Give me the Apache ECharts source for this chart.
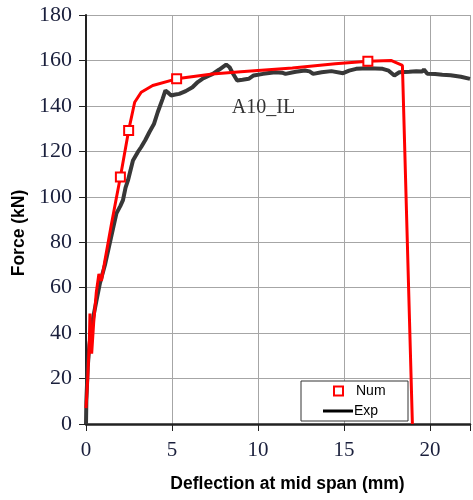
<!DOCTYPE html>
<html>
<head>
<meta charset="utf-8">
<script src="https://cdn.jsdelivr.net/npm/echarts@6/dist/echarts.min.js"></script>
<style>
  html, body { margin: 0; padding: 0; background: #fff; }
  #chart { width: 473px; height: 500px; }
</style>
</head>
<body>
<div id="chart"></div>
<script>
// numerical curve (Num)
var numX = [0, 0.1, 0.2, 0.23, 0.28, 0.33, 0.45, 0.6, 0.75, 0.9, 1.1, 1.48, 1.73, 2.0, 2.48, 2.83, 3.21, 3.88, 5.27, 7.35, 9.0, 12.0, 14.5, 16.39, 17.73, 18.4, 18.46, 18.98];
var numY = [7, 20, 38, 48.6, 40, 31, 45, 58, 66, 63, 72, 88, 98, 108.7, 129.2, 141.6, 146, 149, 151.9, 154, 155, 156.7, 158.5, 159.6, 160, 157.8, 157, 0];
// indices of the points drawn with a square marker
var numMarked = [13, 14, 18, 23];

// experimental curve (Exp)
var expX = [0, 0.02, 0.1, 0.2, 0.42, 0.6, 0.81, 1.1, 1.38, 1.6, 1.77, 2.0, 2.15, 2.3, 2.44, 2.73, 3.0, 3.21, 3.45, 3.69, 3.95, 4.17, 4.45, 4.62, 4.75, 4.94, 5.2, 5.42, 5.8, 6.19, 6.5, 6.77, 7.05, 7.35, 7.75, 8.15, 8.35, 8.5, 8.79, 9.1, 9.46, 9.75, 10.3, 11.0, 11.4, 11.6, 12.2, 12.73, 13.0, 13.21, 13.7, 14.27, 14.95, 15.3, 15.71, 16.4, 17.25, 17.6, 17.93, 18.22, 18.8, 19.2, 19.56, 19.65, 19.85, 20.3, 20.72, 21.2, 21.8, 22.33];
var expY = [0, 10, 25, 35, 47, 54, 62, 70, 79.5, 87, 92.7, 96, 98.5, 104, 107.2, 116, 119.5, 121.9, 125, 128.5, 132, 137.2, 143, 146.8, 146, 144.6, 145, 145.3, 146.5, 148.2, 150.5, 151.9, 153, 154, 156, 158.2, 157, 154.8, 151.2, 151.5, 151.9, 153.4, 154.1, 154.8, 154.6, 154.1, 155, 155.6, 155.2, 154.1, 154.8, 155.3, 154.4, 155.5, 156.3, 156.6, 156.3, 155.5, 153.4, 154.8, 155, 155.2, 155.1, 156, 154.1, 154, 153.7, 153.5, 152.8, 151.9];

var xTicks = [0, 5, 10, 15, 20];
var yTicks = [0, 20, 40, 60, 80, 100, 120, 140, 160, 180];
var label = 'A10_IL';

var numData = numX.map(function (x, i) {
  if (numMarked.indexOf(i) >= 0) {
    return { value: [x, numY[i]], symbol: 'rect', symbolSize: 9 };
  }
  return [x, numY[i]];
});
var expData = expX.map(function (x, i) { return [x, expY[i]]; });

var tickColor = '#1a1f3c';
var chart = echarts.init(document.getElementById('chart'));

chart.setOption({
  animation: false,
  grid: { left: 86, top: 15, right: 0, bottom: 76 },
  xAxis: {
    type: 'value',
    min: 0,
    max: 22.33,
    interval: 5,
    name: 'Deflection at mid span (mm)',
    nameLocation: 'middle',
    nameGap: 51,
    nameTextStyle: { fontFamily: 'Liberation Sans', fontWeight: 'bold', fontSize: 17.5, color: '#000', padding: [0, 0, 0, 19] },
    axisLine: { lineStyle: { color: '#222', width: 2.5 } },
    axisTick: { show: true, length: 7, lineStyle: { color: '#222' } },
    axisLabel: {
      margin: 16, fontFamily: 'Liberation Serif', fontSize: 21, color: tickColor,
      formatter: function (v) { return xTicks.indexOf(v) >= 0 ? String(v) : ''; }
    },
    splitLine: { show: true, lineStyle: { color: '#a6a6a6', width: 1 } }
  },
  yAxis: {
    type: 'value',
    min: 0,
    max: 180,
    interval: 20,
    name: 'Force (kN)',
    nameLocation: 'middle',
    nameRotate: 90,
    nameGap: 52,
    nameTextStyle: { fontFamily: 'Liberation Sans', fontWeight: 'bold', fontSize: 17.5, color: '#000', padding: [0, 27, 0, 0] },
    axisLine: { show: true, lineStyle: { color: '#222', width: 2 } },
    axisTick: { show: true, length: 7, lineStyle: { color: '#222' } },
    axisLabel: {
      margin: 14, fontFamily: 'Liberation Serif', fontSize: 22, color: tickColor,
      formatter: function (v) { return yTicks.indexOf(v) >= 0 ? String(v) : ''; }
    },
    splitLine: { show: true, lineStyle: { color: '#a6a6a6', width: 1 } }
  },
  legend: [
    {
      left: 333, top: 384, padding: 0, itemWidth: 9, itemHeight: 9,
      textStyle: { fontFamily: 'Liberation Sans', fontSize: 14, color: '#000', padding: [0, 0, 0, 8] },
      data: [{ name: 'Num', icon: 'rect', itemStyle: { color: '#fff', borderColor: '#ff0000', borderWidth: 2 } }]
    },
    {
      left: 323, top: 404, padding: 0, itemWidth: 30, itemHeight: 3,
      textStyle: { fontFamily: 'Liberation Sans', fontSize: 14, color: '#000', padding: [0, 0, 0, -4] },
      data: [{ name: 'Exp', icon: 'rect', itemStyle: { color: '#000' } }]
    }
  ],
  series: [
    {
      name: 'Exp', type: 'line', data: expData, z: 2,
      symbol: 'none', lineStyle: { color: '#383838', width: 4 }, itemStyle: { color: '#000' }
    },
    {
      name: 'Num', type: 'line', data: numData, z: 4,
      symbol: 'none', showSymbol: true,
      lineStyle: { color: '#ff0000', width: 3 },
      itemStyle: { color: '#fff', borderColor: '#ff0000', borderWidth: 2 }
    }
  ]
});

// legend frame and curve label placed in data coordinates
var pos = chart.convertToPixel({ gridIndex: 0 }, [8.48, 139.1]);
chart.setOption({
  graphic: [
    { type: 'rect', z: 3, shape: { x: 301, y: 381, width: 107, height: 40 },
      style: { fill: '#fff', stroke: '#333', lineWidth: 1 } },
    { type: 'text', z: 5, x: pos[0], y: pos[1],
      style: { text: label, font: '20px "Liberation Serif"', fill: '#333', verticalAlign: 'middle', align: 'left' } }
  ]
});
</script>
</body>
</html>
